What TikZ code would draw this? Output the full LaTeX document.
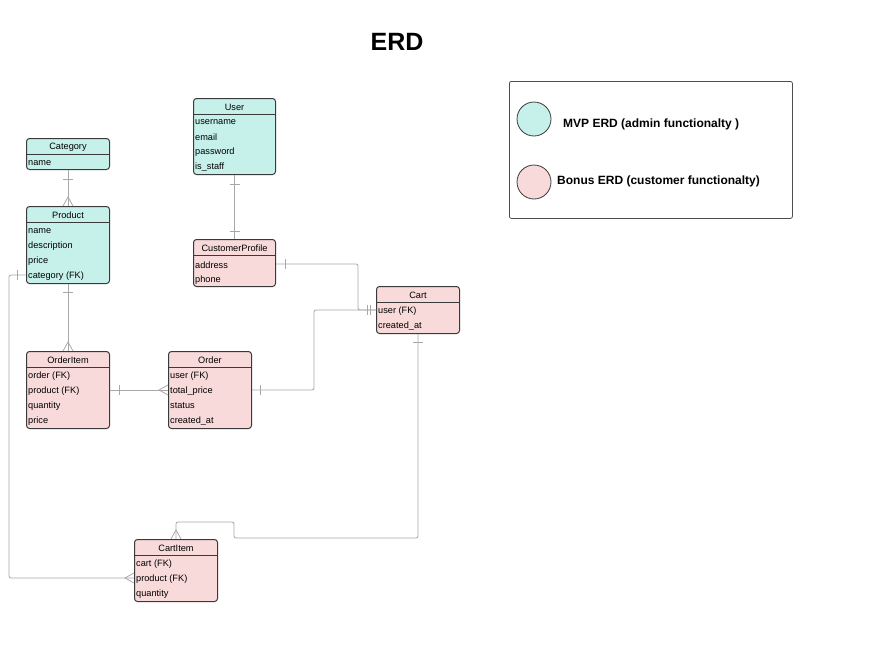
\documentclass[tikz,border=0pt]{standalone}
\usepackage{fontspec}
\setmainfont{Liberation Sans}
\usetikzlibrary{calc}
\definecolor{mvp}{HTML}{C6F1EB}
\definecolor{bonus}{HTML}{F8DADB}
\definecolor{edgec}{HTML}{3A3A3A}
\definecolor{connc}{HTML}{A8A8A8}
\tikzset{
  ent/.style={draw=edgec, line width=1pt, rounded corners=3pt, anchor=north west, inner sep=0pt},
  hline/.style={draw=edgec, line width=1pt},
  ttl/.style={inner sep=0pt, font=\fontsize{9.2}{10}\selectfont},
  rowt/.style={anchor=west, inner sep=0pt, font=\fontsize{9.2}{10}\selectfont},
  cn/.style={draw=connc, line width=0.8pt},
  legtext/.style={anchor=west, inner sep=0pt, font=\bfseries\fontsize{12}{14}\selectfont},
}
\newcommand{\mkent}[7]{%
  \node[ent, fill=#6, minimum width=#4pt, minimum height=#5pt] (#1) at (#2,#3) {};
  \draw[hline] ($(#1.north west)+(0,16)$) -- ($(#1.north east)+(0,16)$);
  \node[ttl] (#1-t) at ($(#1.north)+(0,9)$) {#7};
}
\begin{document}
\begin{tikzpicture}[x=1pt,y=-1pt]
\useasboundingbox (0,0) rectangle (870,664);

\node[inner sep=0pt, font=\bfseries\fontsize{25}{28}\selectfont] (title) at (397,42) {ERD};

% entities
\mkent{category}{26}{138}{83}{31}{mvp}{Category}
\node[rowt] (category-r1) at ($(category.north west)+(2,25)$) {name};

\mkent{product}{26}{206}{83}{77}{mvp}{Product}
\foreach \t [count=\i] in {name,description,price,category (FK)}
  \node[rowt] (product-r\i) at ($(product.north west)+(2,10+15*\i)$) {\t};

\mkent{user}{193}{98}{82}{76}{mvp}{User}
\foreach \t [count=\i] in {username,email,password,is\_staff}
  \node[rowt] (user-r\i) at ($(user.north west)+(2,9.5+15*\i)$) {\t};

\mkent{cprof}{193}{239}{82}{47}{bonus}{CustomerProfile}
\foreach \t [count=\i] in {address,phone}
  \node[rowt] (cprof-r\i) at ($(cprof.north west)+(2,11+15*\i)$) {\t};

\mkent{cart}{376}{286}{83}{47}{bonus}{Cart}
\foreach \t [count=\i] in {user (FK),created\_at}
  \node[rowt] (cart-r\i) at ($(cart.north west)+(2,10+15*\i)$) {\t};

\mkent{oitem}{26}{351}{83}{77}{bonus}{OrderItem}
\foreach \t [count=\i] in {order (FK),product (FK),quantity,price}
  \node[rowt] (oitem-r\i) at ($(oitem.north west)+(2,10+15*\i)$) {\t};

\mkent{order}{168}{351}{83}{77}{bonus}{Order}
\foreach \t [count=\i] in {user (FK),total\_price,status,created\_at}
  \node[rowt] (order-r\i) at ($(order.north west)+(2,10+15*\i)$) {\t};

\mkent{citem}{134}{539}{83}{62}{bonus}{CartItem}
\foreach \t [count=\i] in {cart (FK),product (FK),quantity}
  \node[rowt] (citem-r\i) at ($(citem.north west)+(2,10+15*\i)$) {\t};

% connection points
\coordinate (cp-a) at ($(cprof.north east)+(0,25)$);
\coordinate (cart-a) at ($(cart.north west)+(0,24)$);
\coordinate (order-a) at ($(order.north east)+(0,39)$);
\coordinate (order-l) at ($(order.north west)+(0,39)$);
\coordinate (oi-a) at ($(oitem.north east)+(0,39)$);
\coordinate (prod-a) at ($(product.north west)+(0,69)$);
\coordinate (ci-a) at ($(citem.north west)+(0,39)$);
\coordinate (b1) at ($(cart-a)+(-18,0)$);
\coordinate (b2) at ($(cart-a)+(-62,0)$);
\coordinate (c1) at (234,538);
\coordinate (c2) at (234,522);
\coordinate (c3) at ($(prod-a)+(-17,0)$);

% Category - Product
\draw[cn] (category.south) -- (product.north);
\draw[cn] ($(category.south)+(-5,9)$) -- ++(10,0);
\draw[cn] ($(product.north)+(-5,0)$) -- ++(5,-9) -- ++(5,9);

% User - CustomerProfile
\draw[cn] (user.south) -- (cprof.north);
\draw[cn] ($(user.south)+(-5,9)$) -- ++(10,0);
\draw[cn] ($(cprof.north)+(-5,-8)$) -- ++(10,0);

% CustomerProfile - Cart
\draw[cn, rounded corners=2pt] (cp-a) -| (b1) -- (cart-a);
\draw[cn] ($(cp-a)+(9,-5)$) -- ++(0,10);
\draw[cn] ($(cart-a)+(-9,-5)$) -- ++(0,10);

% Order - Cart
\draw[cn, rounded corners=2pt] (order-a) -| (b2) -- (cart-a);
\draw[cn] ($(order-a)+(8,-5)$) -- ++(0,10);
\draw[cn] ($(cart-a)+(-6,-5)$) -- ++(0,10);

% Product - OrderItem
\draw[cn] (product.south) -- (oitem.north);
\draw[cn] ($(product.south)+(-5,8)$) -- ++(10,0);
\draw[cn] ($(oitem.north)+(-5,0)$) -- ++(5,-9) -- ++(5,9);

% OrderItem - Order
\draw[cn] (oi-a) -- (order-l);
\draw[cn] ($(oi-a)+(9,-5)$) -- ++(0,10);
\draw[cn] ($(order-l)+(0,-5)$) -- ++(-9,5) -- ++(9,5);

% Cart - CartItem
\draw[cn, rounded corners=2pt] (cart.south) |- (c1) -- (c2) -| (citem.north);
\draw[cn] ($(cart.south)+(-5,8)$) -- ++(10,0);
\draw[cn] ($(citem.north)+(-5,0)$) -- ++(5,-9) -- ++(5,9);

% Product - CartItem
\draw[cn, rounded corners=2pt] (prod-a) -- (c3) |- (ci-a);
\draw[cn] ($(prod-a)+(-9,-5)$) -- ++(0,10);
\draw[cn] ($(ci-a)+(0,-5)$) -- ++(-9,5) -- ++(9,5);

% legend
\node[draw=edgec!90, line width=0.8pt, rounded corners=2pt, minimum width=283pt, minimum height=137pt, anchor=north west, inner sep=0pt] (legend) at (509,81) {};
\node[circle, draw=edgec, line width=0.8pt, fill=mvp, minimum size=34pt, inner sep=0pt] (lc1) at (534,119) {};
\node[circle, draw=edgec, line width=0.8pt, fill=bonus, minimum size=34pt, inner sep=0pt] (lc2) at (534,182) {};
\node[legtext] (lt1) at (563,124) {MVP ERD (admin functionalty )};
\node[legtext] (lt2) at (557,181) {Bonus ERD (customer functionalty)};
\end{tikzpicture}
\end{document}
